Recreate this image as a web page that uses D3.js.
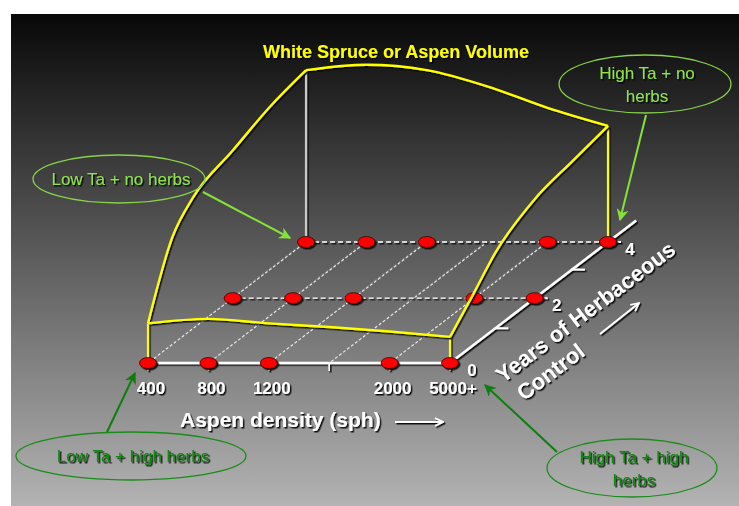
<!DOCTYPE html>
<html lang="en">
<head>
<meta charset="UTF-8">
<title>White Spruce or Aspen Volume</title>
<script src="https://d3js.org/d3.v7.min.js"></script>
<style>
  body { margin: 0; background: #fff; }
  svg { display: block; font-family: "Liberation Sans", Arial, sans-serif; }
</style>
</head>
<body>
<svg id="chart" width="739" height="506"></svg>
<script>
// aspen density classes on the front axis (1600 only gets a tick)
const densities = ["400", "800", "1200", "1600", "2000", "5000+"];
const densityLabels = ["400", "800", "1200", "", "2000", "5000+"];
const plotDensities = ["400", "800", "1200", "2000", "5000+"];
const gridDensities = ["400", "800", "1200", "1600", "2000"];

// years of herbaceous control
const plotYears = [0, 2, 4];
const yearTicks = [1, 2, 3, 4];
const yearLabels = [0, 2, 4];
const yearAxisEnd = 4.8;

// edges of the volume surface (relative volume)
const volumeYear0 = [22, 24.5, 22, 20, 17.5, 14.5];
const volumeYear4 = [95.5, 98.5, 95.5, 86.5, 74.5, 64.5];
const edgeYears = [0, 0.5, 1, 2, 3, 4];
const volumeLowDensity = [22, 59.5, 73, 82, 90.5, 95.5];
const volumeHighDensity = [14.5, 29, 42, 55, 60, 64.5];

const svg = d3.select("#chart");
const defs = svg.append("defs");

// background gradient, black at top to light grey at bottom
const grad = defs.append("linearGradient").attr("id", "bg")
    .attr("x1", 0).attr("y1", 0).attr("x2", 0).attr("y2", 1);
grad.append("stop").attr("offset", "0%").attr("stop-color", "#080808");
grad.append("stop").attr("offset", "100%").attr("stop-color", "#b3b3b3");

const shadow = defs.append("filter").attr("id", "shadow")
    .attr("filterUnits", "userSpaceOnUse")
    .attr("x", 0).attr("y", 0).attr("width", 739).attr("height", 506);
shadow.append("feDropShadow")
    .attr("dx", 1.5).attr("dy", 1.5).attr("stdDeviation", 0.4)
    .attr("flood-color", "#000").attr("flood-opacity", 0.9);

function arrowMarker(id, color, open) {
    const m = defs.append("marker").attr("id", id)
        .attr("viewBox", "0 0 10 10").attr("refX", 9).attr("refY", 5)
        .attr("markerWidth", open ? 5 : 6).attr("markerHeight", open ? 5 : 6)
        .attr("markerUnits", "strokeWidth")
        .attr("orient", "auto");
    if (open) {
        m.append("path").attr("d", "M1,1 L9,5 L1,9").attr("fill", "none")
            .attr("stroke", color).attr("stroke-width", 1.6);
    } else {
        m.append("path").attr("d", "M0,0 L10,5 L0,10 L3,5 Z").attr("fill", color);
    }
}
arrowMarker("arrowLight", "#86e23a", false);
arrowMarker("arrowDark", "#0f7d0f", false);
arrowMarker("arrowWhite", "#fff", true);

svg.append("rect")
    .attr("x", 11).attr("y", 14).attr("width", 728).attr("height", 492)
    .attr("fill", "url(#bg)");

// scales: density across, years into depth, volume upward
const x = d3.scalePoint().domain(densities).range([148, 450]);
const depth = d3.scalePow().exponent(0.9).domain([0, 4]).range([0, 1]);
const vol = d3.scaleLinear().domain([0, 100]).range([0, 180]);
const baseY = 363, depthX = 158, depthY = -121;

function project(d, yr, v) {
    const k = depth(yr);
    return [x(d) + depthX * k, baseY + depthY * k - vol(v || 0)];
}

const line = d3.line();
const smooth = d3.line().curve(d3.curveMonotoneX);

// oblique grid lines (year 0 -> 4)
const grid = svg.append("g");
gridDensities.forEach(d => {
    const a = project(d, 0), b = project(d, 4);
    grid.append("path").attr("d", line([[a[0] - 1.5, a[1]], [b[0] - 1.5, b[1]]]))
        .attr("stroke", "#7a7a7a").attr("stroke-width", 1.2)
        .attr("stroke-dasharray", "3,2").attr("fill", "none");
    grid.append("path").attr("d", line([a, b]))
        .attr("stroke", "#e8e8e8").attr("stroke-width", 1.2)
        .attr("stroke-dasharray", "3,2").attr("stroke-dashoffset", 2.5).attr("fill", "none");
});

// horizontal dashed rows at year 2 and 4
plotYears.filter(t => t > 0).forEach(t => {
    grid.append("path")
        .attr("d", line([project(densities[0], t), project(densities[densities.length - 1], t)]))
        .attr("stroke", "#fff").attr("stroke-width", 1.3)
        .attr("stroke-dasharray", "5,3").attr("fill", "none")
        .attr("filter", "url(#shadow)");
});

// axes
const axes = svg.append("g").attr("filter", "url(#shadow)");
axes.append("path")
    .attr("d", line([project(densities[0], 0), project(densities[densities.length - 1], 0)]))
    .attr("stroke", "#fff").attr("stroke-width", 2.5);
axes.selectAll(".xtick").data(densities).join("line")
    .attr("class", "xtick")
    .attr("x1", d => x(d)).attr("x2", d => x(d))
    .attr("y1", baseY - 1).attr("y2", baseY + 8)
    .attr("stroke", "#fff").attr("stroke-width", 1.6);
axes.append("path")
    .attr("d", line([project("5000+", 0), project("5000+", yearAxisEnd)]))
    .attr("stroke", "#fff").attr("stroke-width", 2.5);
axes.selectAll(".ytick").data(yearTicks).join("line")
    .attr("class", "ytick")
    .attr("x1", t => project("5000+", t)[0] - 1)
    .attr("x2", t => project("5000+", t)[0] + 13)
    .attr("y1", t => project("5000+", t)[1])
    .attr("y2", t => project("5000+", t)[1])
    .attr("stroke", "#fff").attr("stroke-width", 2);

// corner verticals of the volume surface
const corners = [
    {d: "400", t: 4, v: volumeYear4[0], color: "#c8c8c8"},
    {d: "5000+", t: 4, v: volumeYear4[5], color: "#ffff00"},
    {d: "400", t: 0, v: volumeYear0[0], color: "#ffff00"},
    {d: "5000+", t: 0, v: volumeYear0[5], color: "#ffff00"}
];
svg.append("g").attr("filter", "url(#shadow)")
    .selectAll("path").data(corners).join("path")
    .attr("d", c => line([project(c.d, c.t), project(c.d, c.t, c.v)]))
    .attr("stroke", c => c.color).attr("stroke-width", 2.2);

// plot points
const points = [];
plotYears.forEach(t => plotDensities.forEach(d => points.push({d, t})));
svg.append("g").attr("filter", "url(#shadow)")
    .selectAll("ellipse").data(points).join("ellipse")
    .attr("cx", p => project(p.d, p.t)[0])
    .attr("cy", p => project(p.d, p.t)[1])
    .attr("rx", 8.5).attr("ry", 5.5)
    .attr("fill", "#ff0000").attr("stroke", "#3a0000").attr("stroke-width", 0.8);

// surface edge curves
const edges = [
    densities.map((d, i) => project(d, 0, volumeYear0[i])),
    densities.map((d, i) => project(d, 4, volumeYear4[i])),
    edgeYears.map((t, i) => project("400", t, volumeLowDensity[i])),
    edgeYears.map((t, i) => project("5000+", t, volumeHighDensity[i]))
];
svg.append("g").attr("filter", "url(#shadow)")
    .selectAll("path").data(edges).join("path")
    .attr("d", smooth)
    .attr("fill", "none").attr("stroke", "#ffff00").attr("stroke-width", 2.4);

// axis labels
const labels = svg.append("g").attr("filter", "url(#shadow)")
    .attr("fill", "#fff").attr("font-weight", "bold");
labels.selectAll(".xl").data(densities).join("text")
    .attr("class", "xl")
    .attr("x", d => x(d) + 3).attr("y", baseY + 31)
    .attr("text-anchor", "middle").attr("font-size", 17)
    .text((d, i) => densityLabels[i]);
labels.selectAll(".yl").data(yearLabels).join("text")
    .attr("class", "yl")
    .attr("x", t => project("5000+", t)[0] + 22)
    .attr("y", t => project("5000+", t)[1] + 13)
    .attr("text-anchor", "middle").attr("font-size", 17)
    .text(t => t);

labels.append("text")
    .attr("x", 180).attr("y", 427).attr("font-size", 21)
    .text("Aspen density (sph)");
svg.append("path").attr("d", line([[395, 422], [443, 422]]))
    .attr("stroke", "#fff").attr("stroke-width", 2)
    .attr("marker-end", "url(#arrowWhite)").attr("filter", "url(#shadow)");

const yTitle = labels.append("g").attr("transform", "translate(590,318) rotate(-37)")
    .attr("font-size", 22).attr("text-anchor", "middle");
yTitle.append("text").attr("x", 0).attr("y", 0).text("Years of Herbaceous");
yTitle.append("text").attr("x", -64).attr("y", 27).text("Control");
svg.append("path").attr("d", line([[600, 334], [639, 303]]))
    .attr("stroke", "#fff").attr("stroke-width", 2)
    .attr("marker-end", "url(#arrowWhite)").attr("filter", "url(#shadow)");

svg.append("text")
    .attr("x", 396).attr("y", 58).attr("text-anchor", "middle")
    .attr("font-size", 18).attr("font-weight", "bold")
    .attr("fill", "#ffff00").attr("filter", "url(#shadow)")
    .text("White Spruce or Aspen Volume");

// callouts pointing at the four corners
const callouts = [
    {lines: ["Low Ta + no herbs"], cx: 119, cy: 179, rx: 86, ry: 24,
     from: [203, 192], d: "400", t: 4, off: [-16, -4], tone: "light"},
    {lines: ["High Ta + no", "herbs"], cx: 645, cy: 84, rx: 86, ry: 29,
     from: [646, 115], d: "5000+", t: 4, off: [12, -22], tone: "light"},
    {lines: ["Low Ta + high herbs"], cx: 131, cy: 456, rx: 115, ry: 24,
     from: [107, 432], d: "400", t: 0, off: [-13, 10], tone: "dark"},
    {lines: ["High Ta + high", "herbs"], cx: 632, cy: 468, rx: 85, ry: 29,
     from: [557, 452], d: "5000+", t: 0, off: [35, 22], tone: "dark"}
];
const tones = {
    light: {text: "#8fe34a", ring: "#86d24a", arrow: "#86e23a", marker: "arrowLight"},
    dark: {text: "#0d870d", ring: "#1a8c1a", arrow: "#0f7d0f", marker: "arrowDark"}
};
callouts.forEach(c => {
    const tone = tones[c.tone];
    const g = svg.append("g");
    g.append("ellipse").attr("cx", c.cx).attr("cy", c.cy).attr("rx", c.rx).attr("ry", c.ry)
        .attr("fill", "none").attr("stroke", tone.ring).attr("stroke-width", 1.3);
    const p = project(c.d, c.t);
    g.append("path").attr("d", line([c.from, [p[0] + c.off[0], p[1] + c.off[1]]]))
        .attr("stroke", tone.arrow).attr("stroke-width", 2)
        .attr("marker-end", `url(#${tone.marker})`);
    const n = c.lines.length;
    g.selectAll("text").data(c.lines).join("text")
        .attr("x", c.cx + 2)
        .attr("y", (s, i) => c.cy + 6 + (i - (n - 1) / 2) * 23)
        .attr("text-anchor", "middle").attr("font-size", 17)
        .attr("fill", tone.text).attr("filter", "url(#shadow)")
        .text(s => s);
});
</script>
</body>
</html>
